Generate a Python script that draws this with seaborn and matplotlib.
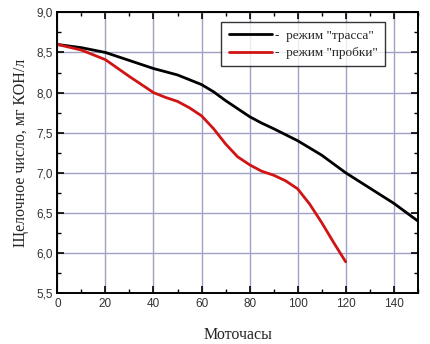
import matplotlib
matplotlib.use("Agg")
import matplotlib.pyplot as plt
import seaborn as sns
import pandas as pd
from matplotlib.ticker import MultipleLocator

hours_trassa = [0, 10, 20, 30, 40, 50, 60, 65, 70, 75, 80, 85, 90, 100, 110, 120, 130, 140, 150]
tbn_trassa = [8.60, 8.56, 8.50, 8.40, 8.30, 8.22, 8.10, 8.01, 7.90, 7.80, 7.70, 7.62, 7.55, 7.40, 7.22, 7.00, 6.81, 6.62, 6.40]

hours_probki = [0, 10, 20, 30, 40, 45, 50, 55, 60, 65, 70, 75, 80, 85, 90, 95, 100, 105, 110, 115, 120]
tbn_probki = [8.60, 8.53, 8.41, 8.20, 8.00, 7.94, 7.89, 7.81, 7.71, 7.55, 7.36, 7.20, 7.10, 7.02, 6.97, 6.90, 6.80, 6.61, 6.38, 6.13, 5.89]

label_trassa = '-  режим "трасса"'
label_probki = '-  режим "пробки"'

df = pd.concat([
    pd.DataFrame({"h": hours_trassa, "v": tbn_trassa, "s": label_trassa}),
    pd.DataFrame({"h": hours_probki, "v": tbn_probki, "s": label_probki}),
])

sns.set_style("white")
plt.rcParams["font.family"] = ["Liberation Sans", "DejaVu Sans"]

fig = plt.figure(figsize=(4.3, 3.44), dpi=100)
ax = fig.add_axes([0.1335, 0.148, 0.838, 0.816])

sns.lineplot(data=df, x="h", y="v", hue="s", palette=["#000000", "#d01414"],
             linewidth=2.0, ax=ax, sort=False, legend=True)

ax.set_xlim(0, 150)
ax.set_ylim(5.5, 9.0)
ax.xaxis.set_major_locator(MultipleLocator(20))
ax.xaxis.set_minor_locator(MultipleLocator(10))
ax.yaxis.set_major_locator(MultipleLocator(0.5))
ax.yaxis.set_minor_locator(MultipleLocator(0.25))
ax.set_yticks(ax.get_yticks())
ax.set_yticklabels([f"{t:.1f}".replace(".", ",") for t in ax.get_yticks()])
ax.set_ylim(5.5, 9.0)

ax.grid(True, which="major", color="#a0a0c4", linewidth=1.0)
ax.set_axisbelow(True)
for sp in ax.spines.values():
    sp.set_color("black")
    sp.set_linewidth(1.4)

ax.tick_params(which="both", direction="in", top=True, right=True,
               bottom=True, left=True, color="black")
ax.tick_params(which="major", length=5, width=1.2, labelsize=8.5,
               labelcolor="#333333", labelright=False, labeltop=False)
ax.tick_params(which="minor", length=3, width=1.0)

ax.set_xlabel("Моточасы", fontfamily="Liberation Serif", fontsize=11.5, labelpad=12)
ax.set_ylabel("Щелочное число, мг КОН/л", fontfamily="Liberation Serif",
              fontsize=11.5, labelpad=5)

leg = ax.legend(loc="upper left", bbox_to_anchor=(0.455, 0.965),
                prop={"family": "Liberation Serif", "size": 9.5},
                frameon=True, fancybox=False, edgecolor="black",
                handlelength=3.3, handletextpad=0.2, borderpad=0.55,
                labelspacing=0.4, borderaxespad=0)
leg.get_frame().set_linewidth(1.0)
leg.set_title(None)

fig.savefig("out.png", dpi=100)
